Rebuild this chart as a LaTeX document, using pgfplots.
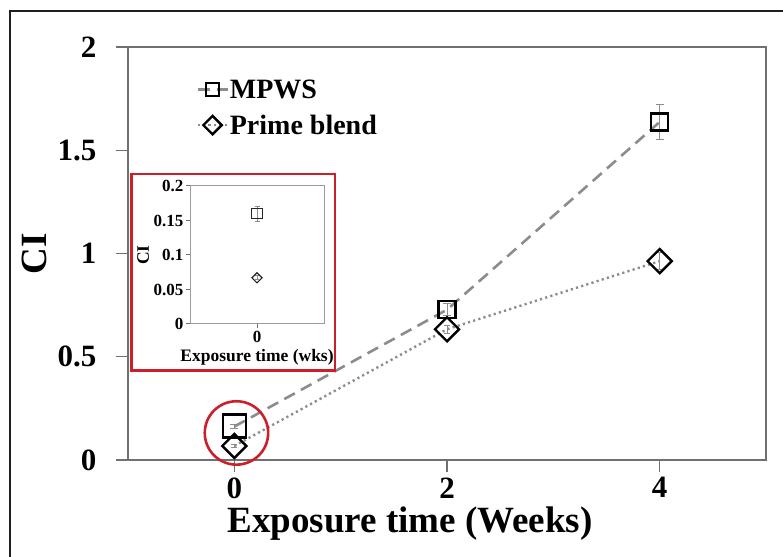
\documentclass[border=0pt]{standalone}
\usepackage{fontspec}
\setmainfont{Liberation Serif}
\usepackage{pgfplots}
\pgfplotsset{compat=1.18}
\definecolor{axgray}{HTML}{707070}
\definecolor{lngray}{HTML}{8C8C8C}
\definecolor{redc}{HTML}{CC1F2A}
\begin{document}
\begin{tikzpicture}[x=1pt,y=1pt]
\useasboundingbox (0,0) rectangle (783,556);
\draw[black!88, line width=2.6pt] (10,-5) -- (10,545) -- (790,545);
\begin{axis}[
  at={(128pt,96pt)}, anchor=south west,
  scale only axis, width=638pt, height=413pt,
  xmin=-1, xmax=5, ymin=0, ymax=2,
  xtick={0,2,4}, ytick={0,0.5,1,1.5,2},
  tick pos=left, tick align=outside, major tick length=12pt,
  axis line style={axgray, line width=1.4pt},
  tick style={axgray, line width=1.4pt},
  /pgf/number format/assume math mode=true,
  ticklabel style={font=\fontsize{31}{31}\selectfont\bfseries},
  yticklabel style={xshift=-16pt},
  xticklabel style={yshift=-2pt},
  xlabel={Exposure time (Weeks)},
  ylabel={CI},
  label style={font=\fontsize{37}{37}\selectfont\bfseries},
  xlabel style={at={(axis description cs:0.442,-0.155)}, anchor=center},
  ylabel style={at={(axis description cs:-0.146,0.5)}, anchor=center},
  legend cell align=left,
  legend style={draw=none, fill=none, inner sep=0pt, row sep=13pt,
    font=\fontsize{28}{28}\selectfont\bfseries,
    at={(axis cs:-0.36,1.7065)}, anchor=west,
    nodes={inner sep=1pt}},
  legend image code/.code={\draw[#1,mark indices={2},mark size=6.5pt] plot coordinates {(0pt,0pt) (15pt,0pt) (30pt,0pt)};},
  clip=false,
]
% MPWS
\addplot[lngray, line width=2.6pt, dash pattern=on 12pt off 7pt,
  mark=square, mark size=8.5pt, mark indices={2,3},
  mark options={black, solid, line width=2.4pt},
  error bars/.cd, y dir=both, y explicit,
  error bar style={lngray, solid, line width=1pt},
  error mark options={lngray, solid, line width=1pt, mark size=4pt, rotate=90}]
 table[x=x, y=y, y error=e] {
x y e
0 0.162 0.010
2 0.728 0.030
4 1.637 0.085
};
\addlegendentry{MPWS}
% Prime blend
\addplot[lngray, line width=2.4pt, dash pattern=on 2.2pt off 3.2pt,
  mark=square, mark size=8.5pt,
  mark options={black, solid, line width=2.4pt, rotate=45},
  error bars/.cd, y dir=both, y explicit,
  error bar style={lngray, solid, line width=1pt},
  error mark options={lngray, solid, line width=1pt, mark size=3pt, rotate=90}]
 table[x=x, y=y, y error=e] {
x y e
0 0.068 0.008
2 0.633 0.020
4 0.963 0.040
};
\addlegendentry{Prime blend}
% larger MPWS marker at week 0
\addplot[forget plot, only marks, mark=square, mark size=11.5pt,
  mark options={black, line width=2.4pt}]
 coordinates {(0,0.165)};
\draw[redc, line width=2.6pt] (axis cs:0.02,0.131) circle[radius=31.7pt];
\end{axis}
\draw[redc, line width=2.6pt, fill=white] (131.7,185.3) rectangle (335,382);
\begin{axis}[
  at={(190pt,232pt)}, anchor=south west,
  scale only axis, width=134pt, height=138pt,
  xmin=-1, xmax=1, ymin=0, ymax=0.2,
  xtick={0}, ytick={0,0.05,0.1,0.15,0.2},
  tick pos=left, tick align=outside, major tick length=4pt,
  axis line style={axgray!70, line width=1pt},
  tick style={axgray, line width=1pt},
  /pgf/number format/assume math mode=true,
  yticklabel style={/pgf/number format/fixed, /pgf/number format/precision=2, xshift=1pt},
  ticklabel style={font=\fontsize{17}{17}\selectfont\bfseries},
  xlabel={Exposure time (wks)},
  ylabel={CI},
  label style={font=\fontsize{17.5}{17.5}\selectfont\bfseries},
  xlabel style={at={(axis description cs:0.5,-0.24)}, anchor=center},
  ylabel style={at={(axis description cs:-0.35,0.5)}, anchor=center},
]
\addplot[only marks, mark=square, mark size=5.3pt,
  mark options={black!85, line width=1.2pt},
  error bars/.cd, y dir=both, y explicit,
  error bar style={lngray, line width=0.7pt},
  error mark options={lngray, line width=0.7pt, mark size=2.5pt, rotate=90}]
 table[x=x, y=y, y error=e] {
x y e
0 0.160 0.011
};
\addplot[only marks, mark=square, mark size=3.6pt,
  mark options={black!85, line width=1.2pt, rotate=45},
  error bars/.cd, y dir=both, y explicit,
  error bar style={lngray, line width=0.7pt},
  error mark options={lngray, line width=0.7pt, mark size=2pt, rotate=90}]
 table[x=x, y=y, y error=e] {
x y e
0 0.067 0.003
};
\end{axis}
\end{tikzpicture}
\end{document}
